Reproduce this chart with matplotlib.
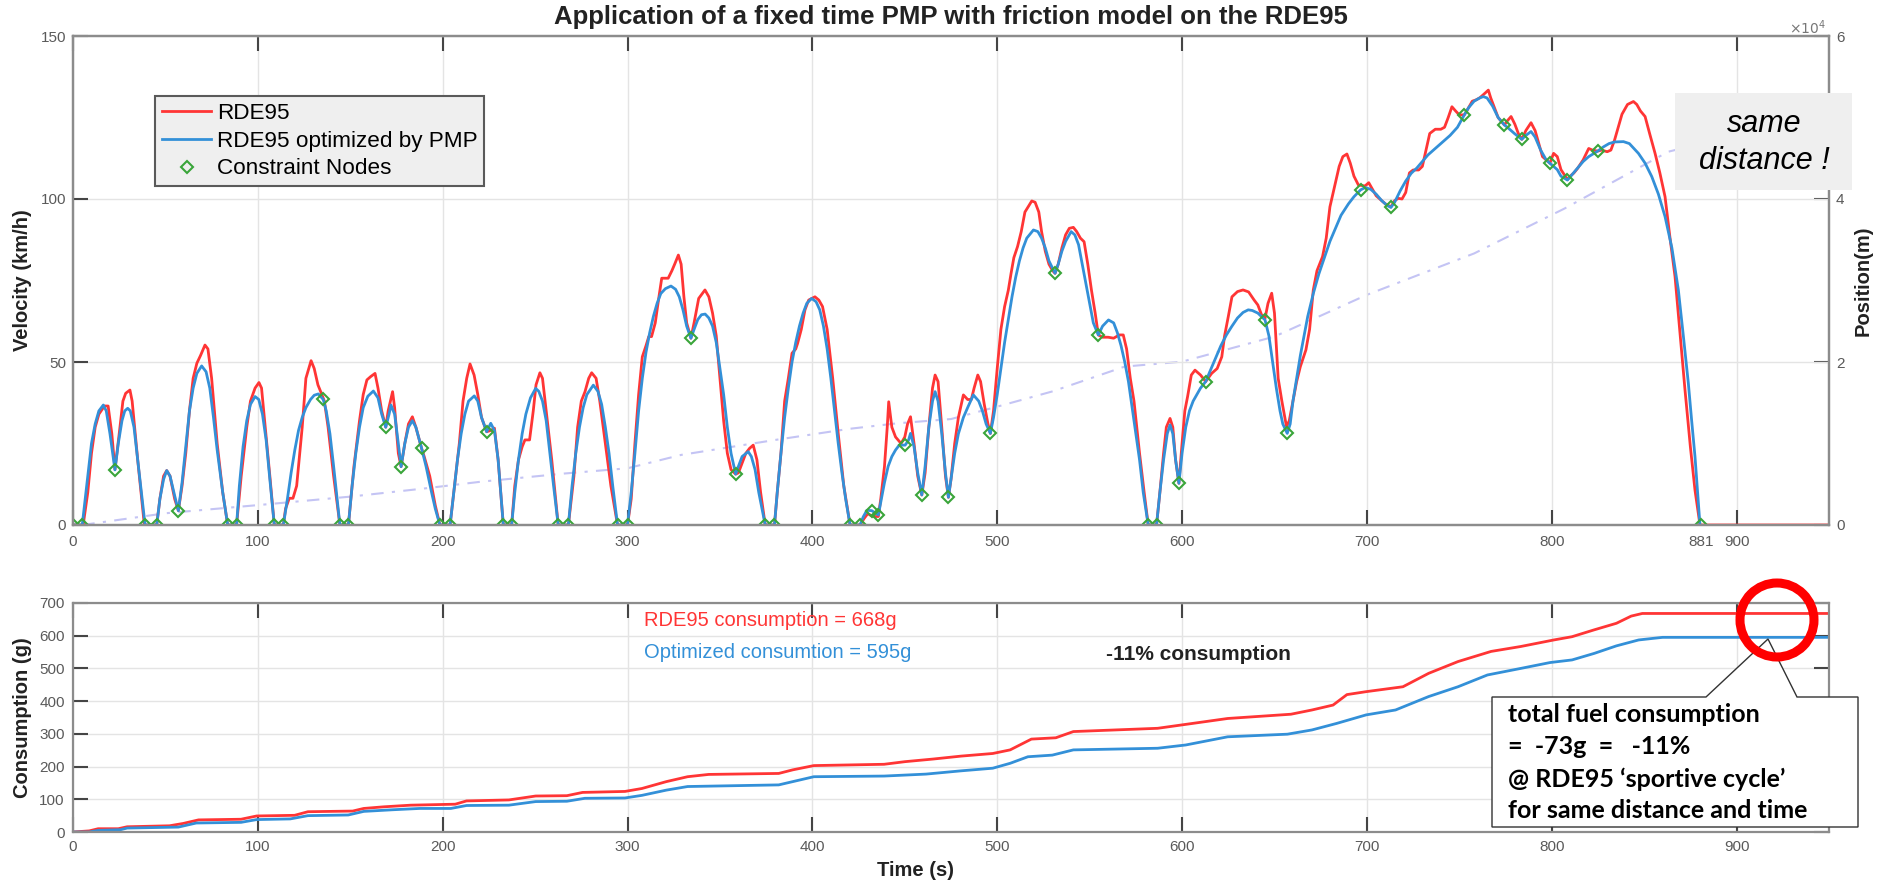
import matplotlib
matplotlib.use('Agg')
import matplotlib.pyplot as plt
from matplotlib.patches import Ellipse, Polygon, Rectangle

# ---------------- data ----------------
red_t = [0, 5.5, 8, 10, 12, 14, 17, 19, 21, 22.7, 25, 27, 28.5, 30.8, 32, 35, 38.6, 45.3, 47, 49, 50.7, 52.5, 55, 57,
         59, 61, 63, 65, 67, 69, 71.4, 73, 75, 78, 81, 83.7, 88.5, 91, 94, 96, 98.5, 100.6, 102, 104, 106.5, 108.9,
         113.8, 115, 117, 119, 121, 122.5, 124, 126, 128.8, 130.5, 132.5, 134, 136, 138, 141, 144.4, 149, 152, 155,
         157, 159, 161, 163.4, 165, 167, 169.2, 170.5, 172.9, 174, 176, 177.5, 179.5, 181.5, 183.6, 185.5, 188.6,
         190, 193, 196, 198.5, 204, 206, 209, 211, 213, 214.8, 217, 219, 221, 223.8, 226, 228, 230, 232.8, 237.3,
         239, 241, 243, 244.5, 247, 249, 250.5, 252.6, 254, 256, 259, 262.5, 268, 271, 273, 275, 277, 279, 280.6,
         283, 285, 288, 291, 294.6, 300, 302, 304, 306, 308, 310, 311.5, 313, 315, 317, 318.5, 322, 324, 325.5,
         327.5, 329, 330.5, 332, 334.3, 336, 338.5, 341.9, 344, 346, 348, 350, 352, 354, 356, 358.5, 360, 362, 364,
         366, 368, 370, 372, 374.5, 379.5, 381, 383, 385, 387, 389, 391, 392, 394, 396, 398, 401.4, 403.5, 405.5,
         408, 411, 414, 417, 420.4, 425.8, 428, 430, 432, 434, 435.7, 437, 439, 440.5, 441.3, 443, 445, 448, 450,
         451.5, 453.1, 455, 457, 459.2, 461, 463, 465, 466.4, 468, 470, 472, 473.6, 475, 477, 479, 481.7, 484, 486,
         487.5, 489.5, 491, 493, 495, 496.3, 498, 500, 502, 504, 506, 507.5, 509, 511, 513, 515, 518.7, 520.5,
         522.5, 524, 526, 528, 530, 531.3, 533, 535, 537, 539, 541.2, 543, 545, 547, 549, 551, 553, 554.7, 557,
         560, 563, 566, 568.2, 570, 572, 574, 577, 579.5, 581.7, 586.2, 588, 590, 591.5, 593.5, 595, 596.5, 598.3,
         600, 601.5, 603, 605, 607, 610, 612.8, 616, 619, 621.5, 623, 625, 627, 630, 633, 636, 639, 641, 643, 644.9,
         646.5, 648.5, 650, 652, 654, 656.5, 658, 660, 662, 664, 667, 669, 671, 673, 676, 678, 680, 683, 685, 687,
         689.2, 691, 693, 695.4, 699, 701, 703, 705, 707, 710, 713, 715, 717, 719, 721, 723, 725, 728, 730, 732,
         734, 737, 740, 742, 744, 746, 748, 750, 752.7, 754, 757, 759, 761, 763, 765.7, 767, 769, 771, 774.4, 776,
         778, 780, 782, 783.8, 786, 788.8, 791, 793, 795, 797, 799, 801, 803, 805, 808.5, 810, 812, 814, 817, 820,
         822, 824.9, 827, 830, 832, 834, 836, 838, 841, 844.2, 846, 848, 850.5, 853, 855.9, 858.5, 861.3, 864,
         866.7, 869.5, 872.1, 875, 877.5, 880.2, 950]
red_v = [0, 0, 10, 22, 30, 34, 36.5, 36.5, 28, 17, 28, 38, 40.4, 41.4, 38, 20, 0, 0, 8, 15, 16.7, 15, 8, 4.4,
         12, 22, 35, 45, 49.6, 52, 55.2, 54, 45, 25, 10, 0, 0, 15, 30, 38, 42, 43.7, 42, 30, 15, 0,
         0, 5, 8.2, 8.2, 12, 21, 30, 45, 50.4, 48, 43, 40.9, 38, 30, 15, 0, 0, 18, 32,
         40, 44.5, 45.5, 46.5, 42, 35, 30, 35, 40.9, 36, 22, 17.9, 25, 31, 33.2, 30, 23.5,
         21, 15, 6, 0, 0, 10, 25, 38, 45, 49.4, 46, 40, 33, 28.6, 29, 29.7, 20, 0, 0,
         12, 20, 24, 26.1, 26.1, 35, 43, 46.7, 45, 35, 20, 0, 0, 15, 30, 38, 40.9, 45, 46.7,
         45, 38, 25, 12, 0, 0, 8, 25, 40, 51.6, 55, 57.8, 57.8, 62, 70, 75.7, 75.7, 78, 80,
         82.8, 80, 70, 62, 57.3, 62, 69.5, 72.1, 70, 65, 58, 45, 32, 22, 17, 15.6, 16, 19, 22,
         23.5, 24.5, 20, 10, 0, 0, 10, 22, 38, 45, 52.7, 54, 55.7, 60, 66, 69, 70, 69, 67,
         60, 45, 28, 12, 0, 0, 2, 3.5, 2.8, 2.6, 2.6, 8, 17.9, 30, 37.8, 30, 27, 25, 27,
         31, 33.2, 25, 15, 9.2, 16, 30, 42, 46, 44, 30, 15, 8.5, 14, 25, 33, 39.9, 38.5, 38.5,
         42, 46, 44, 37, 31, 28.1, 35, 48, 60, 67, 72, 77.2, 82, 85.4, 90, 96, 99.4, 99,
         96, 90, 84, 80, 78, 77.2, 80, 85, 89, 91, 91.3, 90, 88, 86.9, 80, 72, 65, 58.3, 57.6,
         57.6, 57.3, 58.3, 58.3, 54, 45, 38, 22, 10, 0, 0, 10, 22, 30, 32.7, 30, 20, 12.8,
         25, 35, 39.4, 46, 47.5, 46, 44, 46.5, 48, 51.6, 58, 63.9, 70, 71.6, 72.1, 71.5, 69, 67.5, 64.5, 63.4,
         68, 71.1, 65, 45, 38, 30.2, 32, 38, 44, 48.6, 53.7, 60, 72.1, 78, 82.3, 88, 97.6, 105, 110, 113,
         113.8, 111, 107, 104.3, 104, 105, 103, 101, 100, 98.5, 97.6, 99.5, 100.2, 100, 102, 108, 108.9, 108.9, 110, 115,
         120.1, 121.4, 121.4, 122, 125, 128.3, 127, 125.8, 125.8, 127, 130, 130.4, 131, 132, 133.4, 131, 128, 125, 122.7, 124,
         125.3, 123, 120, 118.3, 121, 123.4, 121, 117, 113, 112, 111, 114, 113, 109, 106, 107, 108, 109.4, 112, 115.5,
         115, 114.7, 115, 114.5, 115, 118.1, 122, 126, 129, 129.9, 129, 127, 125.3, 120, 114, 108, 100.7, 88,
         76.2, 58, 41.4, 24, 10.7, 0, 0]

blue_t = [0, 5, 8, 10, 12, 14, 16.4, 18, 20, 22.7, 24.5, 26.5, 28, 29.6, 31, 33, 35, 37, 39, 45.3, 47, 49, 50.7,
          52.5, 55, 57, 59, 61, 63, 65, 67, 69.6, 72, 74, 76, 78, 81, 83.7, 88.5, 90, 92, 94, 96, 98.5, 100.5,
          102.5, 104.5, 106.5, 108.9, 113.8, 116, 118, 120, 122, 124, 126, 128.5, 130.5, 132.7, 135.4, 137, 139,
          141, 142.5, 144.4, 149, 151, 153, 155, 157, 159.5, 162.5, 165, 167, 169.2, 171, 172, 174, 176, 177.5,
          179.5, 181.5, 183.6, 185.5, 188.6, 191, 194, 196, 198.5, 204, 206, 208, 210, 212, 214, 217.1, 219, 221,
          223.8, 226, 228, 230, 232.8, 237.3, 239, 241, 243, 245, 247.5, 250.3, 252, 254, 256, 258, 260, 262.5,
          268, 270, 272, 274, 276, 278, 281.5, 284, 286, 288, 290, 292, 294.6, 300, 302, 304, 306, 308, 310, 312,
          314, 316, 318, 320.5, 323.5, 326, 328, 330, 332, 334.3, 336, 338, 340, 342, 344, 346, 348, 350, 352,
          354, 356, 358.5, 360, 362, 365.3, 367, 369, 371, 374.5, 379.5, 381, 383, 385, 387, 389, 391, 393, 395,
          397, 399.6, 402, 404, 406, 408, 410, 412, 414, 416, 418, 420.4, 425.8, 427.5, 429.5, 432.1, 435.7, 437,
          439, 441, 443, 445, 447, 450.2, 452, 453.1, 455, 457, 459.2, 461, 463, 465, 466.4, 468, 470, 472, 473.6,
          475, 477, 479, 481.7, 484, 487.1, 490, 492, 494, 496.3, 498, 500, 502, 504, 506, 508, 510, 512, 514,
          516, 519.6, 522, 524, 526, 528, 531.3, 533, 535, 537, 540, 542, 544, 546, 548, 550, 552, 554.7, 557,
          560.2, 563, 565, 567, 569, 571, 573, 575, 577, 579, 581.7, 586.2, 588, 590, 592, 593.5, 595, 596.5,
          598.3, 600, 602, 604, 606, 608, 610, 612.8, 615, 618, 621, 624, 627, 630, 633, 635.8, 638, 641, 644.9,
          647, 649, 651, 653, 654.5, 656.9, 658.5, 660, 662, 664, 666, 668, 671, 674, 677, 680, 683, 686, 690,
          693, 696.6, 699, 702, 705, 708, 711, 713, 715, 718, 721, 724, 727, 730, 733, 737, 741, 745, 749, 752.7,
          755, 758, 761, 763, 765, 768, 771, 774.4, 776, 778, 780, 783.8, 786, 788.8, 791, 794, 797, 799.1, 801,
          803, 805, 808.5, 811, 814, 817, 820, 824.9, 828, 831, 834, 838.8, 842, 846.9, 850.5, 854.1, 857.7,
          861.3, 865, 868.5, 871.2, 873.9, 875.7, 877.5, 880.2]
blue_v = [0, 0, 15, 25, 31, 35, 36.8, 35, 28, 16.9, 25, 32, 35, 35.8, 35, 30, 20, 10, 0, 0, 8, 14, 16.7,
          15, 9, 4.4, 13, 24, 35, 42, 46.5, 48.8, 47, 42, 33, 23, 10, 0, 0, 12, 24, 32, 37, 39.4, 38.5,
          34, 26, 14, 0, 0, 8, 16, 23, 29, 33, 36, 38.5, 39.8, 40.2, 38.5, 35, 28,
          18, 10, 0, 0, 12, 22, 30, 36, 39.5, 41.1, 39, 34, 30, 34, 36.8, 34, 25, 17.9,
          25, 30, 32, 30, 23.5, 18, 10, 5, 0, 0, 10, 20, 28, 34, 38, 39.6, 38, 33,
          28.6, 31.2, 29, 20, 0, 0, 10, 20, 28, 34, 39, 41.9, 41, 38, 32, 22, 12, 0,
          0, 12, 22, 30, 36, 40, 42.9, 41, 37, 30, 22, 12, 0, 0, 10, 22, 35, 45, 53, 59,
          64, 68, 71, 72.5, 73.3, 72.3, 70, 66, 61, 57.3, 60, 63, 64.5, 64.7, 63.5, 61, 56, 48, 40,
          30, 22, 15.6, 18, 21, 22.5, 21, 17, 10, 0, 0, 10, 22, 33, 42, 50, 56, 61, 65,
          68, 69.5, 68.5, 66, 61, 54, 45, 35, 25, 16, 8, 0, 0, 2.5, 4.5, 4.4, 3.1, 7,
          13, 18, 21, 23, 24.5, 24.5, 26, 28.1, 24, 16, 9.2, 18, 30, 38, 40.9, 38, 28, 16, 8.5,
          14, 22, 28, 33, 36, 39.9, 38, 35, 31, 28.1, 33, 40, 48, 56, 63, 70, 76, 81, 85,
          88, 90.5, 90, 88, 85, 81, 77.2, 80, 84, 87, 90, 89, 86, 80, 74, 68, 62, 58.3, 61,
          62.9, 62, 59, 55, 50, 44, 36, 28, 20, 10, 0, 0, 10, 20, 28, 30.7, 28, 20,
          12.8, 22, 30, 35, 38, 40, 42, 44, 47, 51, 55, 58.3, 61, 63.5, 65.2, 66, 65.8, 65, 62.9,
          58, 50, 42, 35, 31, 28.1, 31, 38, 45, 52, 58, 64, 71, 77, 82, 87, 91, 95, 98.5,
          100.7, 102.8, 103.5, 103, 101.5, 99.5, 98, 97.4, 99, 102.5, 105.5, 107.9, 109.5, 111.5, 113.5, 115.5, 117.5, 119.5, 122, 125.8,
          128, 130, 131, 131.4, 131, 128.5, 125, 122.7, 122, 121, 120, 118.3, 119.5, 120.7, 119, 115, 112, 110.9, 110,
          109, 107, 105.8, 107.5, 109.5, 111.5, 113, 114.7, 116, 117, 117.5, 117.6, 117, 114, 111, 106.9, 101.5,
          94.6, 85, 72.1, 58, 43.5, 32, 21, 0]

node_t = [0, 5, 22.7, 39, 45.3, 57, 83.7, 88.5, 108.9, 113.8, 135.4, 144.4, 149, 169.2, 177.5, 188.6, 198.5, 204,
          223.8, 232.8, 237.3, 262.5, 268, 294.6, 300, 334.3, 358.5, 374.5, 379.5, 420.4, 425.8, 432.1, 435.7,
          450.2, 459.2, 473.6, 496.3, 531.3, 554.7, 581.7, 586.2, 598.3, 612.8, 644.9, 656.9, 696.6, 713, 752.7,
          774.4, 783.8, 799.1, 808.5, 824.9, 880.5]
node_v = [0, 0, 16.9, 0, 0, 4.4, 0, 0, 0, 0, 38.5, 0, 0, 30, 17.9, 23.5, 0, 0,
          28.6, 0, 0, 0, 0, 0, 0, 57.3, 15.6, 0, 0, 0, 0, 4.4, 3.1,
          24.5, 9.2, 8.5, 28.1, 77.2, 58.3, 0, 0, 12.8, 44, 62.9, 28.1, 102.8, 97.4, 125.8,
          122.7, 118.3, 110.9, 105.8, 114.7, 0]

pos_t = [5, 50, 100, 150, 190, 221, 266, 300, 329, 380, 420, 446, 475, 500, 530, 569, 600, 650, 700, 758, 807,
         863, 881]
pos_m = [0, 1440, 2440, 3480, 4480, 5320, 6320, 6960, 8600, 10440, 11800, 12480, 13000, 14520, 16400, 19440,
         20040, 23120, 28240, 33320, 38840, 45800, 46800]

cons_red_t = [0, 8.8, 13.6, 24.5, 29.3, 52.2, 59.5, 67.9, 90.9, 99.4, 119.9, 127.1, 151.3, 157.3, 168.2, 182.7,
              206.8, 212.9, 235.8, 250.3, 267.2, 275.7, 298.6, 307.8, 321, 332.5, 343.9, 381.8, 389.4, 400.8,
              438.8, 450.1, 465.3, 480.5, 497.6, 507, 518.5, 531.7, 541.2, 564, 586.8, 605.8, 624.7, 658.9,
              670.3, 681.7, 689.2, 699.6, 719.5, 733.4, 749.3, 767.2, 783.2, 801.1, 811, 823, 835, 843, 849, 950]
cons_red_g = [0, 3.4, 10, 10, 16, 19, 26, 37, 39, 49, 51, 62, 64, 72, 77, 82,
              85, 95, 98, 110, 111, 121, 124, 133, 154, 169, 176, 179, 190, 203,
              207, 215, 223, 232, 240, 251, 284, 288, 307, 312, 317, 332, 347, 360,
              373, 388, 420, 429, 444, 485, 521, 552, 567, 587, 597, 618, 638, 660, 668, 668]
cons_blue_t = [0, 8.8, 13.6, 25.7, 29.3, 57, 66.7, 90.9, 99.4, 117.5, 127.1, 148.9, 157.3, 173, 187.6, 204.4,
               212.9, 235.8, 250.3, 267.2, 276.9, 298.6, 307.8, 321, 332.5, 381.8, 400.8, 438.8, 461.5, 480.5,
               497.6, 507, 516.6, 529.8, 541.2, 586.8, 602, 624.7, 657, 670.3, 683.7, 699.6, 715.5, 733.4,
               749.3, 765.2, 783.2, 799.1, 811, 823, 835, 847, 855, 860, 950]
cons_blue_g = [0, 0, 5, 7, 12, 15, 27.5, 29.5, 38, 40, 50, 52, 63, 68, 72, 72,
               81, 82, 93, 94, 103, 104, 112, 128, 139, 144, 169, 171, 177, 187,
               195, 210, 230, 235, 251, 256, 266, 291, 299, 312, 332, 358, 373, 414,
               444, 480, 500, 518, 526, 546, 569, 587, 592, 595, 595]

x_ticks = [0, 100, 200, 300, 400, 500, 600, 700, 800, 900]
v_ticks = [0, 50, 100, 150]
pos_ticks = [0, 20000, 40000, 60000]
pos_tick_labels = ['0', '2', '4', '6']
cons_ticks = [0, 100, 200, 300, 400, 500, 600, 700]

# ---------------- style ----------------
plt.rcParams['font.family'] = ['Liberation Sans', 'DejaVu Sans']
RED = '#ff3535'
BLUE = '#3390d8'
GREEN = '#3aa53a'
SPINE = '#8c8c8c'
TICKC = '#454545'
LABC = '#5a5a5a'
GRIDC = '#e4e4e4'
LBL = '#222222'

W, H = 1877, 883
fig = plt.figure(figsize=(W / 100, H / 100), dpi=100)


def fx(x):
    return x / W


def fy(y):
    return 1 - y / H


ax = fig.add_axes([fx(73), fy(525), fx(1829) - fx(73), fy(36) - fy(525)])
ax2 = ax.twinx()
ax.set_zorder(ax2.get_zorder() + 1)
ax.patch.set_visible(False)
ax2.patch.set_visible(True)
ax2.patch.set_facecolor('white')
axb = fig.add_axes([fx(73), fy(832), fx(1829) - fx(73), fy(603) - fy(832)])

# position (right axis)
ax2.plot(pos_t, pos_m, color='#c4c4f4', lw=1.5, ls=(0, (6, 4, 1.5, 4)))
ax2.set_ylim(0, 60000)
ax2.set_yticks(pos_ticks)
ax2.set_yticklabels(pos_tick_labels)
ax2.tick_params(axis='y', direction='in', length=11, width=1.5, color=TICKC,
                labelcolor=LABC, labelsize=11, pad=5)
ax2.set_ylabel('Position(m)', fontsize=14.5, fontweight='bold', color=LBL)
ax2.yaxis.set_label_coords(1.0 + (1854 - 1829) / 1756, 0.5)

# velocity
l1, = ax.plot(red_t, red_v, color=RED, lw=2.0, label='RDE95')
l2, = ax.plot(blue_t, blue_v, color=BLUE, lw=2.0, label='RDE95 optimized by PMP')
l3, = ax.plot(node_t, node_v, ls='none', marker='D', ms=6.5, mfc='none', mec=GREEN, mew=1.5,
              label='Constraint Nodes')
ax.set_xlim(0, 950)
ax.set_ylim(0, 150)
ax.set_xticks(x_ticks)
ax.set_xticklabels([str(v) for v in x_ticks])
ax.set_xticks([881], minor=True)
ax.set_xticklabels(['881'], minor=True)
ax.set_yticks(v_ticks)
ax.grid(True, which='major', color=GRIDC, lw=1.0)
ax.tick_params(axis='x', which='major', direction='in', top=True, length=11, width=1.5, color=TICKC,
               labelcolor=LABC, labelsize=11, pad=7)
ax.tick_params(axis='x', which='minor', direction='in', top=False, length=0, labelcolor=LABC,
               labelsize=11, pad=7)
ax.tick_params(axis='y', direction='in', right=False, length=11, width=1.5, color=TICKC,
               labelcolor=LABC, labelsize=11, pad=5)
ax.set_ylabel('Velocity (km/h)', fontsize=14.5, fontweight='bold', color=LBL)
ax.yaxis.set_label_coords((32 - 73) / 1756, 0.5)
for a in (ax, ax2, axb):
    for s in a.spines.values():
        s.set_color(SPINE)
        s.set_linewidth(1.6)

leg = ax.legend(handles=[l1, l2, l3], loc='upper left', bbox_to_anchor=(0.0467, 0.877), borderaxespad=0,
                fontsize=16.2, frameon=True, fancybox=False, facecolor='#efefef', edgecolor='#5a5a5a',
                framealpha=1, handlelength=2.2, handletextpad=0.25, labelspacing=0.3, borderpad=0.3)
leg.get_frame().set_linewidth(1.5)

# consumption
axb.plot(cons_red_t, cons_red_g, color=RED, lw=2.0)
axb.plot(cons_blue_t, cons_blue_g, color=BLUE, lw=2.0)
axb.set_xlim(0, 950)
axb.set_ylim(0, 700)
axb.set_xticks(x_ticks)
axb.set_yticks(cons_ticks)
axb.grid(True, color=GRIDC, lw=1.0)
axb.tick_params(axis='both', direction='in', top=True, right=True, length=11, width=1.5, color=TICKC,
                labelcolor=LABC, labelsize=11, pad=6)
axb.set_ylabel('Consumption (g)', fontsize=14.5, fontweight='bold', color=LBL)
axb.yaxis.set_label_coords((32 - 73) / 1756, 0.5)
axb.set_xlabel('Time (s)', fontsize=14.5, fontweight='bold', color=LBL)
axb.xaxis.set_label_coords(0.48, -0.125)

# ---------------- texts & annotations ----------------
fig.text(fx(951), fy(17), 'Application of a fixed time PMP with friction model on the RDE95',
         ha='center', va='center', fontsize=18.5, fontweight='bold', color=LBL)
fig.text(fx(1826), fy(28), r'$\times10^{4}$', ha='right', va='center', fontsize=10, color='#777777')

fig.add_artist(Rectangle((fx(1675), fy(190)), fx(1852) - fx(1675), fy(93) - fy(190),
                         transform=fig.transFigure, facecolor='#efefef', edgecolor='none', zorder=3))
fig.text(fx(1764), fy(124), 'same', ha='center', va='center', fontsize=22, style='italic', zorder=4)
fig.text(fx(1764), fy(161), 'distance !', ha='center', va='center', fontsize=22, style='italic', zorder=4)

fig.text(fx(644), fy(620), 'RDE95 consumption = 668g', ha='left', va='center', fontsize=14.5, color=RED)
fig.text(fx(644), fy(652), 'Optimized consumtion = 595g', ha='left', va='center', fontsize=14.5, color=BLUE)
fig.text(fx(1106), fy(654), '-11% consumption', ha='left', va='center', fontsize=15, fontweight='bold',
         color=LBL)

fig.add_artist(Ellipse((fx(1777), fy(620)), 2 * 37 / W, 2 * 37 / H, transform=fig.transFigure,
                       facecolor='none', edgecolor='#ff0000', lw=6.5, zorder=5))
callout = [(1492, 697), (1706, 697), (1768, 639), (1797, 697), (1858, 697), (1858, 827), (1492, 827)]
fig.add_artist(Polygon([(fx(x), fy(y)) for x, y in callout], closed=True, transform=fig.transFigure,
                       facecolor='white', edgecolor='#333333', lw=1.0, zorder=4))
callout_lines = ['total fuel consumption', '=  -73g  =   -11%', '@ RDE95 \u2018sportive cycle\u2019',
                 'for same distance and time']
for i, s in enumerate(callout_lines):
    fig.text(fx(1508), fy(715 + 32 * i), s, ha='left', va='center', fontsize=18, fontweight='bold',
             family=['Lato', 'DejaVu Sans'], color='black', zorder=6)

fig.savefig('out.png', dpi=100)
